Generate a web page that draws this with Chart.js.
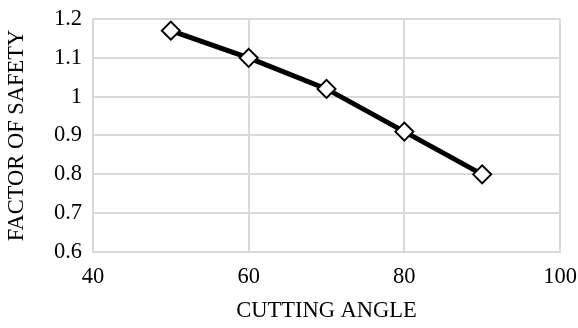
<!DOCTYPE html>
<html>
<head>
<meta charset="utf-8">
<script src="https://cdn.jsdelivr.net/npm/chart.js@4/dist/chart.umd.min.js"></script>
<style>
  html, body { margin: 0; padding: 0; background: #fff; }
  #wrap { width: 578px; height: 328px; }
</style>
</head>
<body>
<div id="wrap"><canvas id="c" width="578" height="328"></canvas></div>
<script>
// Cutting angle (degrees) against factor of safety
const cuttingAngle = [50, 60, 70, 80, 90];
const factorOfSafety = [1.17, 1.10, 1.02, 0.91, 0.80];
const xTicks = [40, 60, 80, 100];
const yTicks = [0.6, 0.7, 0.8, 0.9, 1, 1.1, 1.2];

const FONT = "'Liberation Serif', 'DejaVu Serif', serif";
const grid = '#d9d9d9';

// keep the plot box fixed: tick labels may overflow into the margins
function noScalePadding(s) {
  s.paddingLeft = 0; s.paddingRight = 0; s.paddingTop = 0; s.paddingBottom = 0;
}

new Chart(document.getElementById('c'), {
  type: 'scatter',
  data: {
    datasets: [{
      data: cuttingAngle.map((x, i) => ({ x: x, y: factorOfSafety[i] })),
      showLine: true,
      borderColor: '#000',
      borderWidth: 5,
      pointStyle: 'rectRot',
      pointRadius: 9,
      pointHoverRadius: 9,
      pointBackgroundColor: '#fff',
      pointBorderColor: '#000',
      pointBorderWidth: 2
    }]
  },
  options: {
    responsive: false,
    animation: false,
    devicePixelRatio: 1,
    layout: { padding: { left: 0, right: 18, top: 19, bottom: 0 } },
    plugins: { legend: { display: false }, tooltip: { enabled: false } },
    scales: {
      x: {
        type: 'linear',
        min: 40, max: 100,
        afterBuildTicks: s => { s.ticks = xTicks.map(v => ({ value: v })); },
        afterFit: s => { s.height = 76; noScalePadding(s); },
        grid: { color: grid, lineWidth: 2, drawTicks: false },
        border: { color: grid, width: 2 },
        ticks: { color: '#000', font: { family: FONT, size: 22.5 }, padding: 12, maxRotation: 0,
                 callback: v => String(v) },
        title: { display: true, text: 'CUTTING ANGLE', color: '#000', font: { family: FONT, size: 22.5 },
                 padding: { top: 0, bottom: 3 } }
      },
      y: {
        min: 0.6, max: 1.2,
        afterBuildTicks: s => { s.ticks = yTicks.map(v => ({ value: v })); },
        afterFit: s => { s.width = 93; noScalePadding(s); },
        grid: { color: grid, lineWidth: 2, drawTicks: false },
        border: { color: grid, width: 2 },
        ticks: { color: '#000', font: { family: FONT, size: 22.5 }, padding: 11,
                 callback: v => String(Math.round(v * 10) / 10) },
        title: { display: true, text: 'FACTOR OF SAFETY', color: '#000', font: { family: FONT, size: 22.5 },
                 padding: { top: 4, bottom: 0 } }
      }
    }
  }
});
</script>
</body>
</html>
